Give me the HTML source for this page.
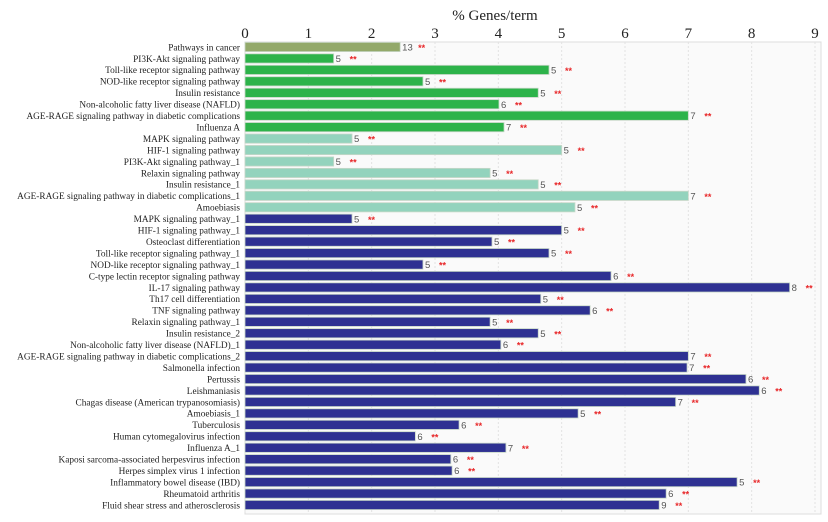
<!DOCTYPE html>
<html><head><meta charset="utf-8"><style>
body{margin:0;background:#fff;}
svg{display:block;font-family:"Liberation Serif",serif;}
</style></head><body>
<svg id="chart" width="828" height="522"></svg>
<script>
const categories=["Pathways in cancer","PI3K-Akt signaling pathway","Toll-like receptor signaling pathway","NOD-like receptor signaling pathway","Insulin resistance","Non-alcoholic fatty liver disease (NAFLD)","AGE-RAGE signaling pathway in diabetic complications","Influenza A","MAPK signaling pathway","HIF-1 signaling pathway","PI3K-Akt signaling pathway_1","Relaxin signaling pathway","Insulin resistance_1","AGE-RAGE signaling pathway in diabetic complications_1","Amoebiasis","MAPK signaling pathway_1","HIF-1 signaling pathway_1","Osteoclast differentiation","Toll-like receptor signaling pathway_1","NOD-like receptor signaling pathway_1","C-type lectin receptor signaling pathway","IL-17 signaling pathway","Th17 cell differentiation","TNF signaling pathway","Relaxin signaling pathway_1","Insulin resistance_2","Non-alcoholic fatty liver disease (NAFLD)_1","AGE-RAGE signaling pathway in diabetic complications_2","Salmonella infection","Pertussis","Leishmaniasis","Chagas disease (American trypanosomiasis)","Amoebiasis_1","Tuberculosis","Human cytomegalovirus infection","Influenza A_1","Kaposi sarcoma-associated herpesvirus infection","Herpes simplex virus 1 infection","Inflammatory bowel disease (IBD)","Rheumatoid arthritis","Fluid shear stress and atherosclerosis"];
const percentValues=[2.45,1.40,4.80,2.81,4.63,4.01,7.0,4.09,1.69,5.0,1.40,3.87,4.63,7.0,5.21,1.69,5.0,3.9,4.8,2.81,5.78,8.6,4.67,5.45,3.87,4.63,4.04,7.0,6.98,7.91,8.12,6.8,5.26,3.38,2.69,4.12,3.25,3.27,7.77,6.65,6.54];
const geneCounts=[13,5,5,5,5,6,7,7,5,5,5,5,5,7,5,5,5,5,5,5,6,8,5,6,5,5,6,7,7,6,6,7,5,6,6,7,6,6,5,6,9];
const groups=[0,1,1,1,1,1,1,1,2,2,2,2,2,2,2,3,3,3,3,3,3,3,3,3,3,3,3,3,3,3,3,3,3,3,3,3,3,3,3,3,3];
const groupColors=["#93a96a","#2db34a","#93d3bd","#2e3192"];
const ticks=[0,1,2,3,4,5,6,7,8,9];

const svg=document.getElementById('chart');
const NS='http://www.w3.org/2000/svg';
const x0=245,x1=815,plotTop=42,plotBottom=514,rowStart=47,pitch=11.45;
const xs=v=>x0+(v/9)*(x1-x0);
const ys=i=>rowStart+i*pitch;
function el(t,a,p){const e=document.createElementNS(NS,t);for(const k in a)e.setAttribute(k,a[k]);(p||svg).appendChild(e);return e;}

const frame=el('rect',{x:x0,y:plotTop,width:821-x0,height:plotBottom-plotTop,fill:'#fafafa',stroke:'#dddddd'});



const title=el('text',{x:495,y:20,'font-size':15,'text-anchor':'middle',fill:'#222'});
title.textContent='% Genes/term';



ticks.forEach(t=>{
  const g=el('line',{x1:xs(t),x2:xs(t),y1:plotTop,y2:plotBottom,stroke:'#e2e2e2','stroke-dasharray':'2,2'});
  
  
  const tl=el('text',{x:xs(t),y:38,'font-size':15,'text-anchor':'middle',fill:'#222'});
  tl.textContent=t;
  
  
});

categories.forEach((c,i)=>{
  const y=ys(i);
  const lab=el('text',{x:240,y:y+3.3,'font-size':9.3,'text-anchor':'end',fill:'#222'});
  lab.textContent=c;
  
  
  const b=el('rect',{x:x0,y:y-4.6,width:xs(percentValues[i])-x0,height:9.2,fill:groupColors[groups[i]],stroke:'#c8d8c8','stroke-width':0.8});
  
  
  const xe=xs(percentValues[i]);
  const n=el('text',{x:xe+2,y:y+3.5,'font-size':9.5,fill:'#555','font-family':'Liberation Sans, sans-serif'});
  n.textContent=geneCounts[i];
  
  
  const s=el('text',{x:xe+(geneCounts[i]>9?18:16),y:y+4,'font-size':9,fill:'#e8282a','font-family':'Liberation Sans, sans-serif','font-weight':'bold'});
  s.textContent='**';
  
  
});
</script>
</body></html>
